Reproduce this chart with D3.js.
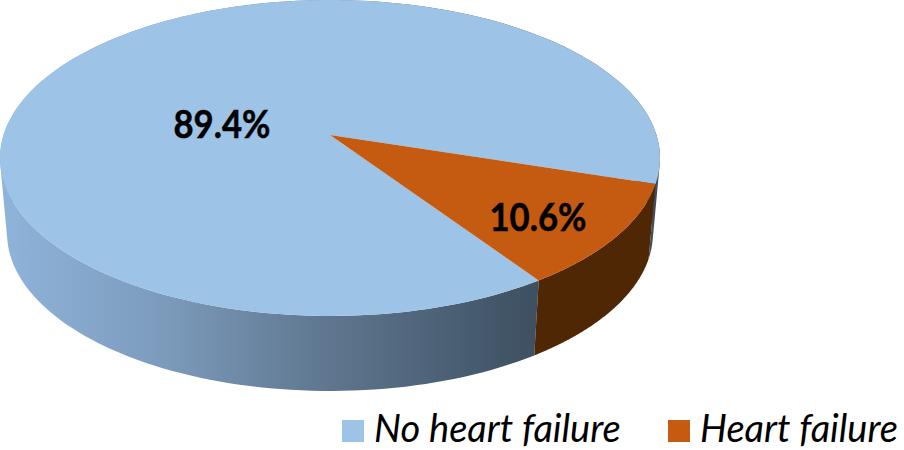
<!DOCTYPE html>
<html>
<head>
<meta charset="utf-8">
<script src="https://cdn.jsdelivr.net/npm/d3@7"></script>
<style>
    html, body {margin: 0; padding: 0; background: #fff;}
    svg {display: block;}
    text {font-family: Lato, "Open Sans", sans-serif; fill: #000;}
    .pct {font-size: 38px; font-weight: 700; text-anchor: middle; stroke: #000; stroke-width: 0.5px;}
    .legend-label {font-size: 38px; font-style: italic;}
</style>
</head>
<body>
<svg id="chart" width="904" height="450"></svg>
<script>
const categories = ["No heart failure", "Heart failure"];
const values = [89.4, 10.6];
const topColors = ["#9DC3E6", "#C55A11"];
const sideColor = "#4F2705";

const svg = d3.select("#chart");

// the disc is seen in perspective, so its centre sits above the middle of the ellipse
const tilt = -0.146;
const top_ = {cx: 330, cy: 158, rx: 330, ry: 158};
const bottom = {cx: 330, cy: 233, rx: 323, ry: 158};

function project(face, angle, r) {
    let u = r * Math.sin(angle),
        v = -r * Math.cos(angle),
        w = 1 + tilt * v;
    return [
        face.cx + face.rx * u * Math.sqrt(1 - tilt * tilt) / w,
        face.cy + face.ry * (v + tilt) / w
    ];
}

function rimPoints(face, a0, a1) {
    return d3.range(0, 201).map(i => project(face, a0 + (a1 - a0) * i / 200, 1));
}

// one path made of small quads, so the wall also fills the gap at the left and right edge
function wallPath(a0, a1) {
    let up = rimPoints(top_, a0, a1),
        down = rimPoints(bottom, a0, a1),
        d = "";
    for (let i = 0; i < up.length - 1; i++) {
        let quad = [up[i], up[i + 1], down[i + 1], down[i]];
        // keep every quad wound the same way
        if (d3.polygonArea(quad) < 0) quad.reverse();
        d += line(quad) + "Z";
    }
    return d;
}

const startDeg = 145.8;
const pie = d3.pie().sort(null)
    .startAngle(startDeg * Math.PI / 180)
    .endAngle((startDeg + 360) * Math.PI / 180);
const slices = pie(values);
const line = d3.line();

const defs = svg.append("defs");
const grad = defs.append("linearGradient")
    .attr("id", "side-blue")
    .attr("gradientUnits", "userSpaceOnUse")
    .attr("x1", 0).attr("x2", 540).attr("y1", 0).attr("y2", 0);
[[0, "#8FB4DA"], [0.3, "#7C9BBC"], [0.6, "#5F7790"], [1, "#3D4F60"]].forEach(s => {
    grad.append("stop").attr("offset", s[0]).attr("stop-color", s[1]);
});

// side walls first, top face goes over them
svg.append("g").selectAll("path")
    .data(slices)
    .enter()
    .append("path")
    .attr("d", d => wallPath(d.startAngle, d.endAngle))
    .attr("fill", (d, i) => i === 0 ? "url(#side-blue)" : sideColor);

svg.append("g").selectAll("path")
    .data(slices)
    .enter()
    .append("path")
    .attr("d", d => line([project(top_, 0, 0)].concat(rimPoints(top_, d.startAngle, d.endAngle))) + "Z")
    .attr("fill", (d, i) => topColors[i]);

const labelAt = [[222, 138], [538, 231]];
svg.append("g").selectAll("text")
    .data(values)
    .enter()
    .append("text")
    .attr("class", "pct")
    .attr("x", (d, i) => labelAt[i][0])
    .attr("y", (d, i) => labelAt[i][1])
    .attr("textLength", 97)
    .attr("lengthAdjust", "spacingAndGlyphs")
    .text(d => d.toFixed(1) + "%");

const legendX = [342, 668];
const legend = svg.append("g").selectAll("g")
    .data(categories)
    .enter()
    .append("g")
    .attr("transform", (d, i) => `translate(${legendX[i]}, 420)`);

legend.append("rect")
    .attr("width", 22)
    .attr("height", 22)
    .attr("fill", (d, i) => topColors[i]);

legend.append("text")
    .attr("class", "legend-label")
    .attr("x", 32)
    .attr("y", 22)
    .text(d => d);
</script>
</body>
</html>
